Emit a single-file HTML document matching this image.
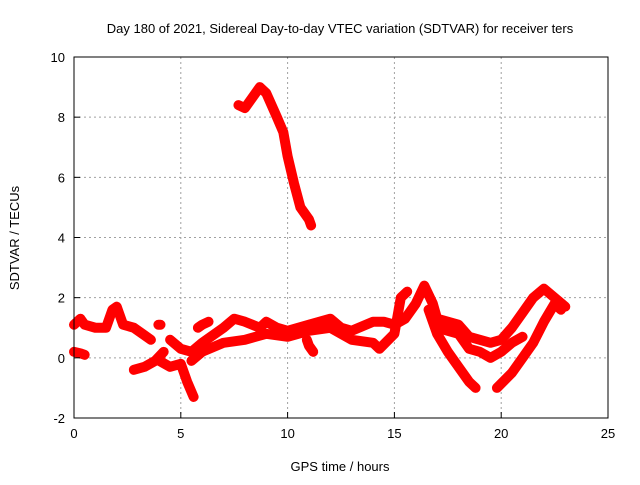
<!DOCTYPE html>
<html><head><meta charset="utf-8"><style>
body{margin:0;background:#fff}
svg{font-family:"Liberation Sans",sans-serif;font-size:13px}
</style></head><body>
<svg id="chart" width="640" height="480" xmlns="http://www.w3.org/2000/svg">
<rect width="640" height="480" fill="#fff"/>
<text x="340" y="33" text-anchor="middle">Day 180 of 2021, Sidereal Day-to-day VTEC variation (SDTVAR) for receiver ters</text>
<text x="340" y="471" text-anchor="middle">GPS time / hours</text>
<text transform="translate(19,238) rotate(-90)" text-anchor="middle">SDTVAR / TECUs</text>
<g id="grid"></g><g id="series"></g><g id="axes"></g>
</svg>
<script>
const xTicks=[0,5,10,15,20,25];
const yTicks=[-2,0,2,4,6,8,10];
const s1x=[0,0.3,0.5,1,1.5,1.8,2.0,2.3,2.8,3.2,3.6];
const s1y=[1.1,1.3,1.1,1.0,1.0,1.6,1.7,1.1,1.0,0.8,0.6];
const s2x=[0,0.3,0.5];
const s2y=[0.2,0.15,0.1];
const s3x=[2.8,3.3,3.8,4.2];
const s3y=[-0.4,-0.3,-0.1,0.2];
const s4x=[4.0,4.5,5.0,5.3,5.6];
const s4y=[-0.1,-0.3,-0.2,-0.8,-1.3];
const s5x=[4.5,5.0,5.5,6,7,7.5,8,8.7,9,9.5,10,11,12,12.5,13,14,14.5,15,15.5,16,16.4,16.8,17,17.5,18,18.5,19,19.5,20,20.5,21,21.5,22,22.5,23];
const s5y=[0.6,0.3,0.2,0.5,1.0,1.3,1.2,1.0,1.2,1.0,0.9,1.1,1.3,1.0,0.9,1.2,1.2,1.1,1.3,1.8,2.4,1.8,1.3,1.2,1.1,0.7,0.6,0.5,0.6,1.0,1.5,2.0,2.3,2.0,1.7];
const s6x=[16.6,17,17.5,18,18.5,18.8];
const s6y=[1.6,0.8,0.2,-0.3,-0.8,-1.0];
const s7x=[19.8,20.5,21,21.5,22,22.5,22.8];
const s7y=[-1.0,-0.5,0,0.5,1.2,1.8,1.6];
const s8x=[5.5,6,7,8,9,10,11,12,13,14,14.3,15,15.3,15.6];
const s8y=[-0.1,0.2,0.5,0.6,0.8,0.7,0.9,1.0,0.6,0.5,0.3,0.8,2.0,2.2];
const s9x=[10.9,11.0,11.2];
const s9y=[0.6,0.4,0.2];
const s10x=[5.8,6.0,6.3];
const s10y=[1.0,1.1,1.2];
const s11x=[7.7,8.0,8.3,8.7,9.0,9.5,9.8,10,10.3,10.6,11.0,11.1];
const s11y=[8.4,8.3,8.6,9.0,8.8,8.0,7.5,6.7,5.8,5.0,4.6,4.4];
const s12x=[17,18,18.5,19,19.5,20,20.5,21];
const s12y=[1.0,0.8,0.3,0.2,0.0,0.2,0.5,0.7];
const s13x=[3.95,4.05];
const s13y=[1.1,1.1];
const allSeries=[[s1x,s1y],[s2x,s2y],[s3x,s3y],[s4x,s4y],[s5x,s5y],[s6x,s6y],[s7x,s7y],[s8x,s8y],[s9x,s9y],[s10x,s10y],[s11x,s11y],[s12x,s12y],[s13x,s13y]];
const X0=74,X1=608,Y0=418,Y1=57;
const xs=v=>X0+(v-0)/25*(X1-X0);
const ys=v=>Y0-(v+2)/12*(Y0-Y1);
const NS="http://www.w3.org/2000/svg";
function mk(t,a,p){const e=document.createElementNS(NS,t);for(const k in a)e.setAttribute(k,a[k]);p.appendChild(e);return e;}
const grid=document.getElementById('grid'),axes=document.getElementById('axes'),ser=document.getElementById('series');
xTicks.forEach(t=>{
 if(t>0&&t<25){const g=mk('line',{x1:xs(t),x2:xs(t),y1:Y1,y2:Y0,stroke:'#a0a0a0','stroke-dasharray':'2,3'},grid);
 
 }
 const tk=mk('line',{x1:xs(t),x2:xs(t),y1:Y0,y2:Y0-6,stroke:'#000'},axes);
 
 
 const tl=mk('text',{x:xs(t),y:Y0+20,'text-anchor':'middle'},axes);tl.textContent=t;
 
 
});
yTicks.forEach(t=>{
 if(t>-2&&t<10){const g=mk('line',{x1:X0,x2:X1,y1:ys(t),y2:ys(t),stroke:'#a0a0a0','stroke-dasharray':'2,3'},grid);
 
 }
 const tk=mk('line',{x1:X0,x2:X0+6,y1:ys(t),y2:ys(t),stroke:'#000'},axes);
 
 
 const tl=mk('text',{x:X0-9,y:ys(t)+5,'text-anchor':'end'},axes);tl.textContent=t;
 
 
});
const fr=mk('rect',{x:X0,y:Y1,width:X1-X0,height:Y0-Y1,fill:'none',stroke:'#000'},axes);


allSeries.forEach(([sx,sy])=>{
 const pts=sx.map((v,i)=>xs(v)+','+ys(sy[i])).join(' ');
 const p=mk('polyline',{points:pts,fill:'none',stroke:'#ff0000','stroke-width':10,'stroke-linejoin':'round','stroke-linecap':'round'},ser);
 
 
});
</script>
</body></html>
